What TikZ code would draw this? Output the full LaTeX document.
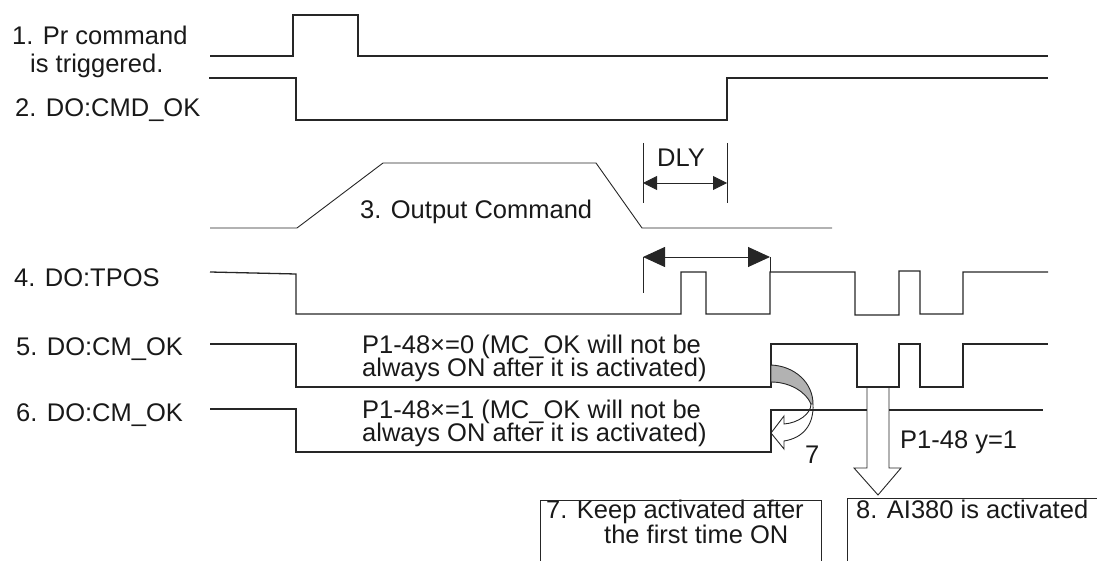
\documentclass[tikz,border=0pt]{standalone}
\usepackage{fontspec}
\setmainfont{Liberation Sans}
\usetikzlibrary{arrows.meta}
\begin{document}
\begin{tikzpicture}[x=1pt,y=-1pt,
  wave/.style={draw=black!85, line width=1.3pt, line join=miter},
  slim/.style={draw=black!85, line width=0.9pt},
  lbl/.style={font=\fontsize{25.5}{23}\selectfont, inner sep=0pt, anchor=base west, text=black!90},
  smalltip/.style={{Triangle[length=14pt,width=14pt]}-{Triangle[length=14pt,width=14pt]}},
  bigtip/.style={{Triangle[length=22pt,width=20pt]}-{Triangle[length=22pt,width=20pt]}},
]
\useasboundingbox (0,0) rectangle (1097,561);

% labels
\node[lbl] (l1a) at (12,45) {1. Pr command};
\node[lbl] (l1b) at (30,73) {is triggered.};
\node[lbl] (l2) at (15,117) {2. DO:CMD\_OK};
\node[lbl] (l3) at (360,219) {3. Output Command};
\node[lbl] (l4) at (14,287) {4. DO:TPOS};
\node[lbl] (l5) at (16,355) {5. DO:CM\_OK};
\node[lbl] (l6) at (16,421) {6. DO:CM\_OK};
\node[lbl, anchor=base] (dly) at (681,167) {DLY};
\node[lbl] (t5a) at (362,353) {P1-48×=0 (MC\_OK will not be};
\node[lbl] (t5b) at (362,376) {always ON after it is activated)};
\node[lbl] (t6a) at (362,418) {P1-48×=1 (MC\_OK will not be};
\node[lbl] (t6b) at (362,441) {always ON after it is activated)};
\node[lbl] (py) at (900,448) {P1-48 y=1};
\node[lbl] (seven) at (805,463) {7};
\node[lbl] (b7a) at (546,518) {7. Keep activated after};
\node[lbl] (b7b) at (604,543) {the first time ON};
\node[lbl] (b8) at (856,518) {8. AI380 is activated};

% 1. Pr command
\draw[wave] (210,56) -- (293,56) -- (293,15) -- (358,15) -- (358,56) -- (1048,56);
% 2. CMD_OK
\draw[wave] (209,78) -- (296,78) -- (296,120) -- (727,120) -- (727,78) -- (1048,78);
% 3. Output command
\draw[slim] (210,228) -- (297,228) -- (383,163) -- (596,163) -- (642,228) -- (832,228);
% DLY
\coordinate (d1) at (643,183);
\coordinate (d2) at (727,183);
\draw[slim] (643,143) -- (643,203);
\draw[slim] (727,143) -- (727,203);
\draw[slim, smalltip] (d1) -- (d2);
% TPOS dimension
\coordinate (p1) at (643,257);
\coordinate (p2) at (770,257);
\draw[slim] (643,257) -- (643,293);
\draw[slim, bigtip] (p1) -- (p2);
% 4. TPOS
\draw[wave] (210,272) -- (296,274) -- (296,314) -- (681,314) -- (681,272) -- (706,272) -- (706,314) -- (770,314) -- (770,272) -- (855,272) -- (855,315) -- (899,315) -- (899,271) -- (920,271) -- (920,314) -- (963,314) -- (963,272) -- (1048,272);
\draw[slim] (770,272) -- (p2);
% 5. CM_OK
\draw[wave] (210,344) -- (296,344) -- (296,387) -- (771,387) -- (771,344) -- (857,344) -- (857,387) -- (899,387) -- (899,344) -- (920,344) -- (920,387) -- (963,387) -- (963,344) -- (1048,344);
% 6. CM_OK
\draw[wave] (210,409) -- (296,409) -- (296,452) -- (771,452) -- (771,410) -- (867,410);
\draw[wave] (889,410) -- (1043,410);
% big arrow
\draw[slim, line join=miter] (867,387) -- (867,468) -- (854,468) -- (878,495) -- (901,468) -- (889,468) -- (889,387);
% curved arrow 7
\draw[slim, fill=black!30] (771,365) .. controls (795,366) and (813,383) .. (813,404) -- (811,404) .. controls (806,392) and (790,382) .. (771,382) -- cycle;
\draw[slim, line join=miter] (811,404) .. controls (811,414) and (798,423) .. (784,424) -- (784,416) -- (771,433) -- (784,449) -- (784,441) .. controls (803,438) and (814,425) .. (813,404);
% boxes
\draw[slim] (540,561) -- (540,500) -- (821,500) -- (821,561);
\draw[slim] (847,561) -- (847,498) -- (1097,498);
\end{tikzpicture}
\end{document}
